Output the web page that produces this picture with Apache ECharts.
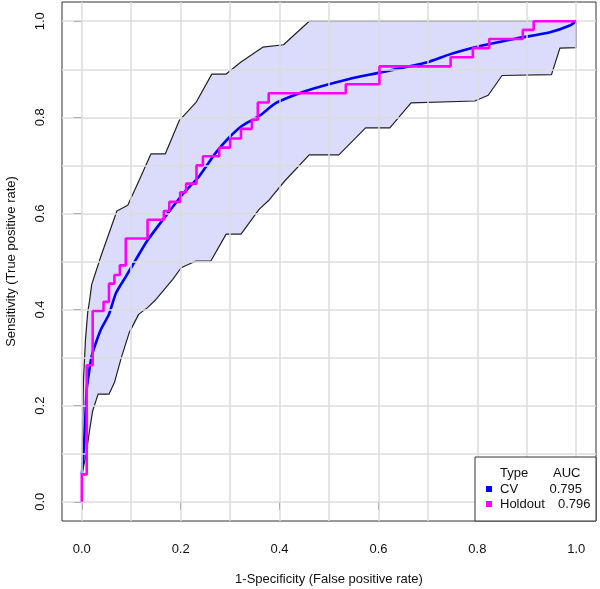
<!DOCTYPE html>
<html>
<head>
<meta charset="utf-8">
<script src="https://cdn.jsdelivr.net/npm/echarts@6/dist/echarts.min.js"></script>
<style>
html, body { margin: 0; padding: 0; background: #fff; }
#chart { width: 600px; height: 589px; }
</style>
</head>
<body>
<div id="chart"></div>
<script>
// upper / lower bounds of the CV confidence band
const upperFpr = [0, 0.0015, 0.0035, 0.0075, 0.012, 0.016, 0.02, 0.039, 0.071, 0.093, 0.117, 0.140, 0.169, 0.197, 0.231, 0.263, 0.292, 0.305, 0.322, 0.366, 0.408, 0.46, 1.0]
const upperTpr = [0.057, 0.15, 0.255, 0.338, 0.394, 0.42, 0.452, 0.512, 0.605, 0.617, 0.671, 0.724, 0.724, 0.793, 0.831, 0.890, 0.890, 0.901, 0.915, 0.946, 0.951, 1.0, 1.0]
const lowerFpr = [0, 0.005, 0.009, 0.016, 0.022, 0.033, 0.055, 0.066, 0.080, 0.096, 0.115, 0.133, 0.150, 0.184, 0.201, 0.231, 0.261, 0.292, 0.322, 0.359, 0.379, 0.41, 0.46, 0.52, 0.574, 0.623, 0.666, 0.795, 0.822, 0.850, 0.950, 0.967, 1.0, 1.0]
const lowerTpr = [0.057, 0.08, 0.10, 0.15, 0.189, 0.224, 0.224, 0.248, 0.300, 0.352, 0.390, 0.404, 0.421, 0.463, 0.487, 0.501, 0.501, 0.557, 0.557, 0.609, 0.628, 0.667, 0.722, 0.722, 0.778, 0.778, 0.830, 0.834, 0.846, 0.887, 0.889, 0.944, 0.945, 1.0]

// mean CV curve
const cvFpr = [0, 0.0035, 0.006, 0.010, 0.014, 0.02, 0.03, 0.039, 0.055, 0.069, 0.09, 0.11, 0.133, 0.170, 0.204, 0.238, 0.27, 0.298, 0.325, 0.359, 0.393, 0.453, 0.541, 0.602, 0.697, 0.744, 0.791, 0.879, 0.947, 0.987, 1.0]
const cvTpr = [0.057, 0.10, 0.15, 0.234, 0.265, 0.303, 0.335, 0.359, 0.39, 0.434, 0.47, 0.505, 0.544, 0.595, 0.640, 0.678, 0.725, 0.758, 0.783, 0.803, 0.830, 0.855, 0.880, 0.893, 0.914, 0.931, 0.945, 0.964, 0.977, 0.991, 1.0]

// holdout ROC (step curve)
const holdFpr = [0, 0, 0.010, 0.022, 0.044, 0.055, 0.066, 0.077, 0.089, 0.133, 0.166, 0.177, 0.199, 0.211, 0.232, 0.245, 0.278, 0.300, 0.322, 0.344, 0.356, 0.378, 0.534, 0.602, 0.746, 0.791, 0.824, 0.892, 0.914, 1.0]
const holdTpr = [0, 0.057, 0.284, 0.397, 0.416, 0.454, 0.472, 0.492, 0.548, 0.587, 0.605, 0.624, 0.644, 0.662, 0.700, 0.719, 0.737, 0.756, 0.776, 0.795, 0.831, 0.850, 0.869, 0.906, 0.925, 0.944, 0.963, 0.982, 1.0, 1.0]

const tickValues = [0, 0.2, 0.4, 0.6, 0.8, 1.0]
const gridValues = [0, 0.1, 0.2, 0.3, 0.4, 0.5, 0.6, 0.7, 0.8, 0.9, 1.0]

const legendNames = ['CV', 'Holdout']
const aucValues = ['0.795', '0.796']
const legendColors = ['#0000ff', '#ff00ff']

const font = '"Liberation Sans", Arial, sans-serif'
const pairs = (xs, ys) => xs.map((x, i) => [x, ys[i]])

const chart = echarts.init(document.getElementById('chart'))

// legend drawn by hand (R style box with header row)
const legendX = 475, legendY = 457
const aucX = [549.5, 558]
const legendGraphics = [
  { type: 'rect', shape: { x: legendX, y: legendY, width: 121, height: 64 },
    style: { fill: '#fff', stroke: '#333', lineWidth: 1 } },
  { type: 'text', x: 500, y: 473, style: { text: 'Type', font: '13px ' + font, fill: '#111', verticalAlign: 'middle' } },
  { type: 'text', x: 553, y: 473, style: { text: 'AUC', font: '13px ' + font, fill: '#111', verticalAlign: 'middle' } }
]
legendNames.forEach((name, i) => {
  const y = 489 + i * 15
  legendGraphics.push(
    { type: 'rect', shape: { x: 486, y: y - 3, width: 6, height: 6 }, style: { fill: legendColors[i] } },
    { type: 'text', x: 500, y: y, style: { text: name, font: '13px ' + font, fill: '#111', verticalAlign: 'middle' } },
    { type: 'text', x: aucX[i], y: y, style: { text: aucValues[i], font: '13px ' + font, fill: '#111', verticalAlign: 'middle' } }
  )
})

const axisCommon = {
  type: 'value',
  min: -0.04,
  max: 1.04,
  nameLocation: 'middle',
  nameTextStyle: { fontSize: 13, color: '#111', fontFamily: font },
  axisLine: { show: false },
  axisTick: { show: true, length: 8, customValues: tickValues, lineStyle: { color: '#333' } },
  axisLabel: { customValues: tickValues, formatter: v => v.toFixed(1), fontSize: 13, color: '#111', fontFamily: font },
  splitLine: { show: false }
}

const option = {
  animation: false,
  grid: {
    left: 62, right: 4, top: 2, bottom: 68,
    outerBoundsMode: 'none', containLabel: false,
    show: true, borderColor: '#333', borderWidth: 1, backgroundColor: 'transparent'
  },
  xAxis: Object.assign({}, axisCommon, {
    name: '1-Specificity (False positive rate)',
    nameGap: 52,
    axisLabel: Object.assign({}, axisCommon.axisLabel, { margin: 22 })
  }),
  yAxis: Object.assign({}, axisCommon, {
    name: 'Sensitivity (True positive rate)',
    nameGap: 44,
    axisLabel: Object.assign({}, axisCommon.axisLabel, { margin: 15, rotate: 90 })
  }),
  series: [
    {
      // grid lines
      type: 'line',
      data: [],
      z: 1,
      markLine: {
        silent: true,
        symbol: ['none', 'none'],
        label: { show: false },
        lineStyle: { color: '#dcdcdc', width: 1.5, type: 'solid' },
        data: gridValues.map(v => ({ xAxis: v })).concat(gridValues.map(v => ({ yAxis: v })))
      }
    },
    {
      type: 'custom',
      z: 2,
      data: [[0, 0]],
      renderItem: (params, api) => {
        const pts = pairs(upperFpr, upperTpr).map(p => api.coord(p))
          .concat(pairs(lowerFpr, lowerTpr).map(p => api.coord(p)).reverse())
        return { type: 'polygon', shape: { points: pts }, style: { fill: 'rgba(30,30,230,0.16)' } }
      }
    },
    {
      type: 'line', z: 3, symbol: 'none', data: pairs(upperFpr, upperTpr),
      lineStyle: { color: '#222', width: 1.2 }
    },
    {
      type: 'line', z: 3, symbol: 'none', data: pairs(lowerFpr, lowerTpr),
      lineStyle: { color: '#222', width: 1.2 }
    },
    {
      name: 'CV', type: 'line', z: 4, symbol: 'none', smooth: 0.2,
      data: pairs(cvFpr, cvTpr),
      lineStyle: { color: legendColors[0], width: 2.6 }
    },
    {
      name: 'Holdout', type: 'line', z: 5, symbol: 'none', step: 'end',
      data: pairs(holdFpr, holdTpr),
      lineStyle: { color: legendColors[1], width: 2.6 }
    }
  ],
  graphic: { elements: legendGraphics.map(g => Object.assign({ z: 100 }, g)) }
}

chart.setOption(option)
</script>
</body>
</html>
